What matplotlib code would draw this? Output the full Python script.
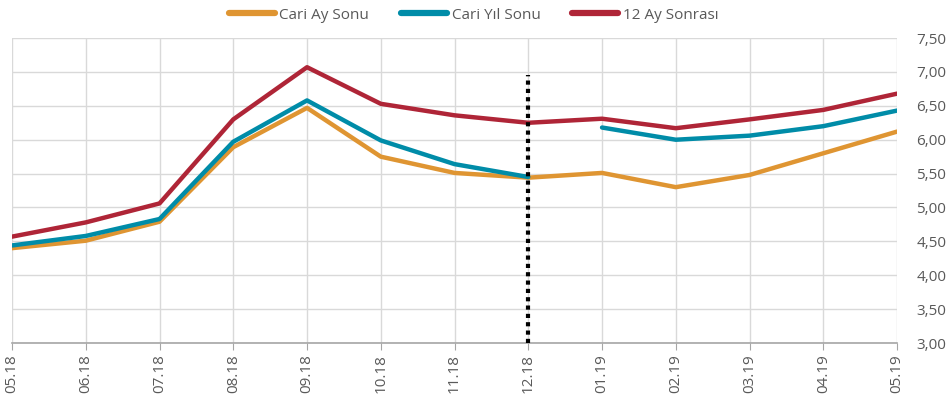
import matplotlib
matplotlib.use("Agg")
import matplotlib.pyplot as plt
import numpy as np
from matplotlib.ticker import FuncFormatter, MultipleLocator

months = ["05.18", "06.18", "07.18", "08.18", "09.18", "10.18", "11.18",
          "12.18", "01.19", "02.19", "03.19", "04.19", "05.19"]
cari_ay_sonu = [4.40, 4.51, 4.79, 5.89, 6.47, 5.75, 5.51, 5.44, 5.51, 5.30, 5.48, 5.80, 6.12]
cari_yil_sonu = [4.44, 4.58, 4.83, 5.97, 6.58, 5.99, 5.64, 5.45, 6.18, 6.00, 6.06, 6.20, 6.43]
ay12_sonrasi = [4.57, 4.78, 5.06, 6.30, 7.07, 6.53, 6.36, 6.25, 6.31, 6.17, 6.30, 6.44, 6.68]
year_break = 8          # Cari Yıl Sonu restarts with the new year (01.19)
marker_month = "12.18"  # dotted vertical line
marker_range = [3.0, 6.95]

plt.rcParams['font.family'] = ['Open Sans', 'DejaVu Sans']

C_ORANGE = "#DF9532"
C_BLUE = "#008CA8"
C_RED = "#AF2537"
TXT = "#595959"

fig = plt.figure(figsize=(9.53, 4.05), dpi=100)
ax = fig.add_axes([0.0126, 0.153, 0.9287, 0.753])

x = np.arange(len(months))
lw = 3.2
ax.plot(x, cari_ay_sonu, color=C_ORANGE, lw=lw, label="Cari Ay Sonu", solid_capstyle="round", zorder=3)
ax.plot(x[:year_break], cari_yil_sonu[:year_break], color=C_BLUE, lw=lw, label="Cari Yıl Sonu",
        solid_capstyle="round", zorder=4)
ax.plot(x[year_break:], cari_yil_sonu[year_break:], color=C_BLUE, lw=lw,
        solid_capstyle="round", zorder=4)
ax.plot(x, ay12_sonrasi, color=C_RED, lw=lw, label="12 Ay Sonrası", solid_capstyle="round", zorder=3)

xm = months.index(marker_month)
ax.plot([xm, xm], marker_range, color="black", lw=3, linestyle=(0, (1, 1)), zorder=5)

ax.set_xlim(0, len(months) - 1)
ax.set_ylim(3.0, 7.5)
ax.yaxis.set_major_locator(MultipleLocator(0.5))
ax.yaxis.set_major_formatter(FuncFormatter(lambda v, p: f"{v:.2f}".replace(".", ",")))
ax.yaxis.tick_right()
ax.set_xticks(x)
ax.set_xticklabels(months, rotation=90)

ax.grid(True, color="#D9D9D9", lw=1)
ax.set_axisbelow(True)
for s in ["top", "left", "right"]:
    ax.spines[s].set_visible(False)
ax.spines["bottom"].set_color("#A6A6A6")
ax.spines["bottom"].set_linewidth(1.2)
ax.tick_params(axis="y", length=0, labelsize=11, labelcolor=TXT, pad=14)
ax.tick_params(axis="x", length=5, color="#A6A6A6", labelsize=11, labelcolor=TXT, pad=3)

leg = fig.legend(loc="upper center", bbox_to_anchor=(0.497, 1.015), ncol=3, frameon=False,
                 fontsize=11, handlelength=3.0, columnspacing=2.1, handletextpad=0.3)
for h in leg.get_lines():
    h.set_linewidth(4.5)
for t in leg.get_texts():
    t.set_color(TXT)

fig.savefig("out.png", dpi=100)
